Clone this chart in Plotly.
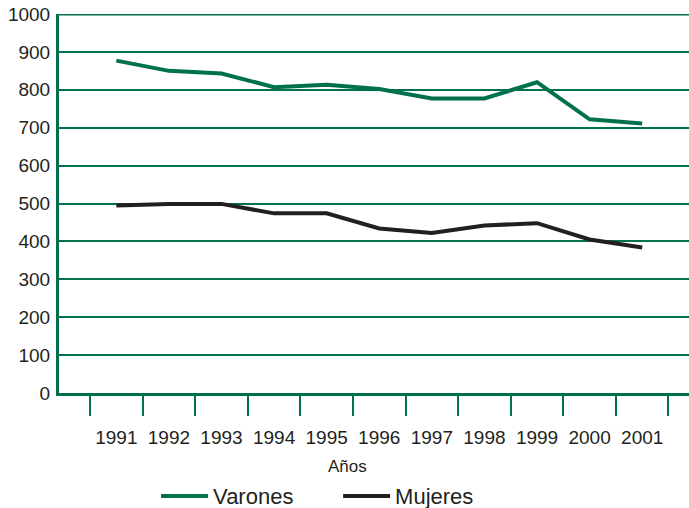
import plotly.graph_objects as go

years = ["1991", "1992", "1993", "1994", "1995", "1996", "1997", "1998", "1999", "2000", "2001"]
varones = [877, 850, 843, 807, 813, 802, 777, 777, 820, 722, 711]
mujeres = [495, 499, 499, 474, 474, 434, 422, 442, 448, 405, 384]
y_ticks = [0, 100, 200, 300, 400, 500, 600, 700, 800, 900, 1000]

GREEN = "#00704f"
BLACK = "#231f20"
FONT = "Liberation Sans, Arial, sans-serif"

fig = go.Figure()
fig.add_trace(go.Scatter(x=years, y=varones, mode="lines", name="Varones",
                         line=dict(color=GREEN, width=4)))
fig.add_trace(go.Scatter(x=years, y=mujeres, mode="lines", name="Mujeres",
                         line=dict(color=BLACK, width=4)))

fig.update_layout(
    width=689, height=508,
    margin=dict(l=59, r=0, t=14, b=115, autoexpand=False),
    paper_bgcolor="white", plot_bgcolor="white",
    font=dict(family=FONT, size=19, color="#231f20"),
    showlegend=True,
    legend=dict(orientation="h", x=0.443, xanchor="center", y=-0.272, yanchor="middle",
                font=dict(size=22), entrywidth=120, itemwidth=47, tracegroupgap=0),
    xaxis=dict(type="category", range=[-1.09, 10.89], tickson="boundaries",
               ticks="outside", ticklen=20, tickwidth=1.5, tickcolor=GREEN,
               tickangle=0, automargin=False, ticklabelstandoff=25,
               showline=True, linecolor=GREEN, linewidth=3, mirror=False,
               showgrid=False, zeroline=False,
               tickfont=dict(size=19)),
    yaxis=dict(range=[0, 1000], tickvals=y_ticks, ticks="", automargin=False,
               showline=True, linecolor=GREEN, linewidth=3,
               showgrid=True, gridcolor=GREEN, gridwidth=1.5,
               zeroline=False, tickfont=dict(size=19), ticklabelstandoff=2),
)
# x-axis title, placed slightly left of centre as in the reference
fig.add_annotation(text="Años", xref="paper", yref="paper", x=0.458, y=-0.193,
                   xanchor="center", yanchor="middle", showarrow=False,
                   font=dict(size=17, family=FONT, color="#231f20"))
# thick top border at 1000
fig.add_shape(type="line", xref="paper", yref="y", x0=0, x1=1, y0=1000, y1=1000,
              line=dict(color=GREEN, width=3))

fig.write_html("out.html", config={"displayModeBar": False},
               post_script="document.body.style.margin='0';")
